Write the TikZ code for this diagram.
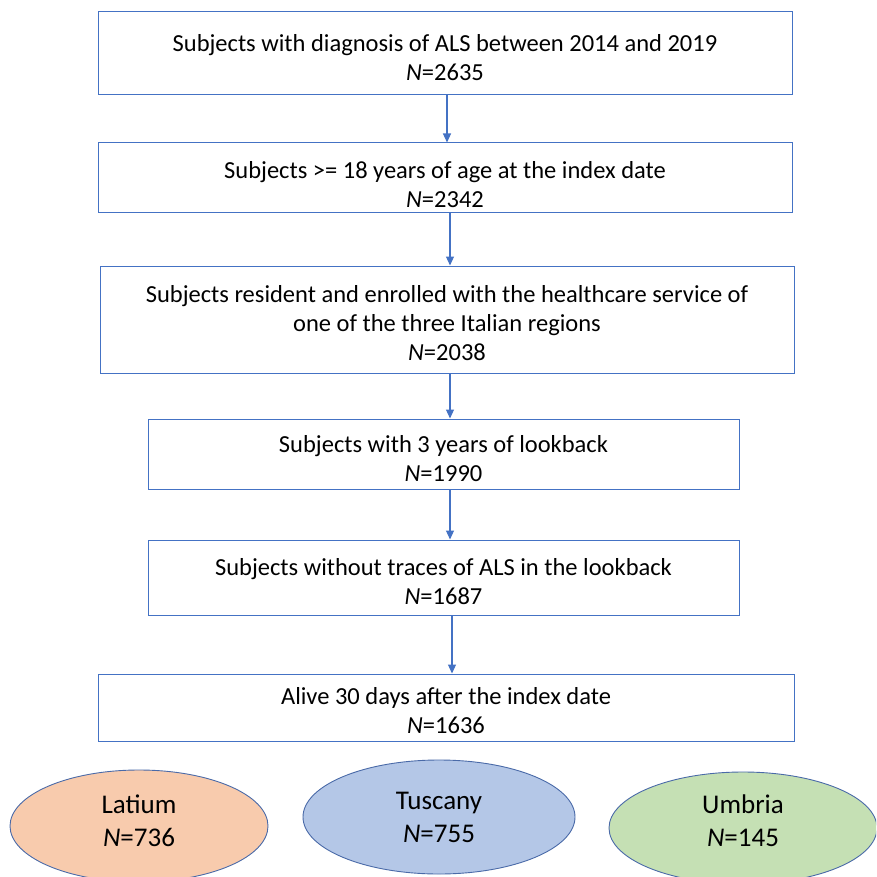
\documentclass[tikz,border=0pt]{standalone}
\usepackage{fontspec}
\setmainfont{Carlito}
\usepackage{xcolor}
\usetikzlibrary{positioning,calc,arrows.meta,shapes.geometric}

\definecolor{boxline}{HTML}{4472C4}
\definecolor{ovalline}{HTML}{4A6AA8}
\definecolor{latfill}{HTML}{F8CBAD}
\definecolor{tusfill}{HTML}{B4C7E7}
\definecolor{umbfill}{HTML}{C5E0B4}

% invisible struts to nudge the text inside a shape
\newcommand\tallstrut[1]{\rule{0pt}{#1}}
\newcommand\deepstrut[1]{\rule[-#1]{0pt}{#1}}

\begin{document}
\begin{tikzpicture}[x=1pt,y=-1pt,
  every node/.style={font=\fontsize{24.5}{29}\selectfont},
  stepbox/.style={draw=boxline,line width=1pt,minimum width=694pt,align=center,inner sep=0pt},
  region/.style={ellipse,draw=ovalline,line width=0.9pt,align=center,inner sep=0pt,
    font=\fontsize{27}{33}\selectfont},
  arrow/.style={-{Triangle[length=9pt,width=8pt]},draw=boxline,fill=boxline,line width=1.2pt}]
\useasboundingbox (0,0) rectangle (876,877);
\clip (0,0) rectangle (876,877);
\node[stepbox,minimum height=83pt] (s1) at (445,53.5)
  {\tallstrut{25pt}Subjects with diagnosis of ALS between 2014 and 2019\\\textit{N}=2635};
\node[stepbox,minimum height=70pt] (s2) at (445,178)
  {\tallstrut{31pt}Subjects >= 18 years of age at the index date\\\textit{N}=2342};
\node[stepbox,minimum height=107pt] (s3) at (447,319.5)
  {\tallstrut{24pt}Subjects resident and enrolled with the healthcare service of\\one of the three Italian regions\\\textit{N}=2038};
\node[stepbox,minimum height=70pt,minimum width=591pt] (s4) at (443.5,454)
  {\tallstrut{26pt}Subjects with 3 years of lookback\\\textit{N}=1990};
\node[stepbox,minimum height=75pt,minimum width=591pt] (s5) at (443.5,577.5)
  {\tallstrut{25pt}Subjects without traces of ALS in the lookback\\\textit{N}=1687};
\node[stepbox,minimum height=67pt,minimum width=696pt] (s6) at (446,707.5)
  {\tallstrut{24pt}Alive 30 days after the index date\\\textit{N}=1636};
% arrows between the steps
\foreach \a/\b/\x in {s1/s2/447,s2/s3/450,s3/s4/450,s4/s5/450,s5/s6/452}
  \draw[arrow] (\x,0 |- \a.south) -- (\x,0 |- \b.north);
% regions
\node[region,fill=latfill,minimum width=258pt,minimum height=112pt] (lat) at (139,826)
  {Latium\\\textit{N}=736\deepstrut{10pt}};
\node[region,fill=tusfill,minimum width=272pt,minimum height=114pt] (tus) at (439,817)
  {Tuscany\\\textit{N}=755};
\node[region,fill=umbfill,minimum width=268pt,minimum height=112pt] (umb) at (743,828)
  {Umbria\\\textit{N}=145\deepstrut{14pt}};
\end{tikzpicture}
\end{document}
